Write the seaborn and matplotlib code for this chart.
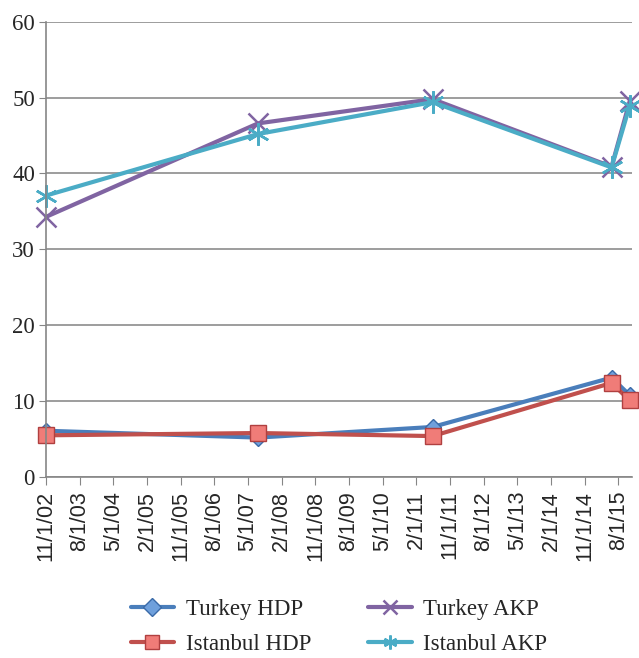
import matplotlib
matplotlib.use("Agg")
import matplotlib.pyplot as plt
import pandas as pd
import seaborn as sns

# election dates and vote shares (%)
election_dates = ["2002-11-03", "2007-07-22", "2011-06-12", "2015-06-07", "2015-11-01"]
turkey_hdp = [6.1, 5.2, 6.6, 13.1, 10.8]
istanbul_hdp = [5.5, 5.8, 5.4, 12.4, 10.1]
turkey_akp = [34.3, 46.6, 49.8, 40.9, 49.5]
istanbul_akp = [37.1, 45.2, 49.4, 40.8, 48.9]

x_tick_labels = ["11/1/02", "8/1/03", "5/1/04", "2/1/05", "11/1/05", "8/1/06",
                 "5/1/07", "2/1/08", "11/1/08", "8/1/09", "5/1/10", "2/1/11",
                 "11/1/11", "8/1/12", "5/1/13", "2/1/14", "11/1/14", "8/1/15"]
y_ticks = [0, 10, 20, 30, 40, 50, 60]

dates = pd.to_datetime(election_dates)
series = {
    "Turkey HDP": turkey_hdp,
    "Istanbul HDP": istanbul_hdp,
    "Turkey AKP": turkey_akp,
    "Istanbul AKP": istanbul_akp,
}
styles = {
    "Turkey HDP": dict(color="#4A7EBB", marker="D", markersize=8, mfc="#6FA0DC", mec="#3A6AA8", mew=1),
    "Istanbul HDP": dict(color="#C0504D", marker="s", markersize=12, mfc="#F07C78", mec="#B04040", mew=1),
    "Turkey AKP": dict(color="#8064A2", marker="x", markersize=14, mec="#8064A2", mew=1.8),
    "Istanbul AKP": dict(color="#4BACC6", marker=(6, 2, 0), markersize=16, mec="#4BACC6", mew=1.8),
}
legend_marker_sizes = [9, 10, 10, 10]

df = pd.DataFrame([
    {"date": d, "value": v, "series": name}
    for name, vals in series.items()
    for d, v in zip(dates, vals)
])

sns.set_style("white")
plt.rcParams["font.family"] = ["Liberation Serif", "DejaVu Serif"]

fig = plt.figure(figsize=(6.39, 6.58), dpi=100)
ax = fig.add_axes([0.072, 0.275, 0.917, 0.692])

for name in series:
    st = styles[name]
    sns.lineplot(data=df[df["series"] == name], x="date", y="value", ax=ax,
                 label=name, linewidth=3, clip_on=False, **st)

ax.set_ylim(0, 60)
ax.set_yticks(y_ticks)
tick_dates = pd.to_datetime(x_tick_labels, format="%m/%d/%y")
ax.set_xlim(tick_dates[0], pd.Timestamp("2015-11-20"))
ax.set_xticks(tick_dates)
ax.set_xticklabels(x_tick_labels, rotation=90, fontsize=15.5,
                   family=["Liberation Sans", "DejaVu Sans"])
ax.tick_params(axis="y", labelsize=16.5, length=5, color="#868686", direction="out", left=True, pad=3)
ax.tick_params(axis="x", length=6, color="#868686", direction="out", bottom=True, pad=4)
ax.yaxis.grid(True, color="#8c8c8c", linewidth=1.2)
ax.xaxis.grid(False)
ax.set_xlabel("")
ax.set_ylabel("")
for side in ["top", "right"]:
    ax.spines[side].set_visible(False)
for side in ["left", "bottom"]:
    ax.spines[side].set_color("#868686")
    ax.spines[side].set_linewidth(1.2)

handles, labels = ax.get_legend_handles_labels()
leg = ax.legend(handles, labels, ncol=2, loc="upper center", bbox_to_anchor=(0.5, -0.222),
                frameon=False, fontsize=16.5, columnspacing=2.5, handlelength=1.9,
                handletextpad=0.5, labelspacing=0.62)
for h, ms in zip(leg.legend_handles, legend_marker_sizes):
    h.set_markersize(ms)

fig.savefig("out.png", dpi=100)
